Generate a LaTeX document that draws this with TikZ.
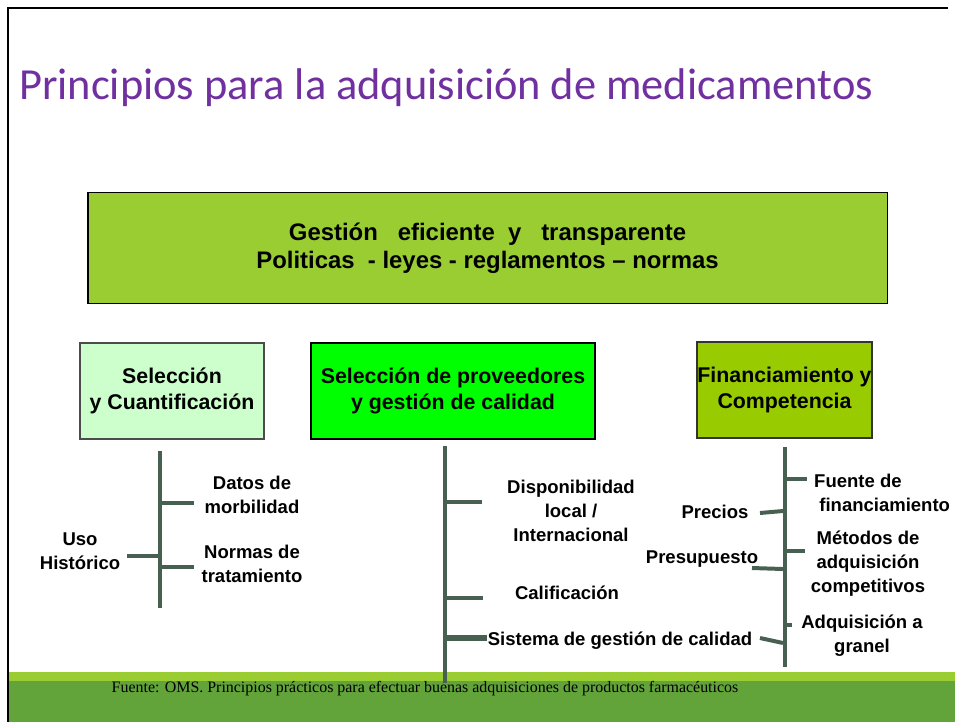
\documentclass[tikz,border=0pt]{standalone}
\usepackage{fontspec}
\setmainfont{Liberation Sans}
\newfontfamily\titlefont{Carlito}
\newfontfamily\notefont{Liberation Serif}
\usetikzlibrary{positioning}

\definecolor{titlepurple}{RGB}{112,48,160}
\definecolor{topgreen}{RGB}{154,205,50}
\definecolor{palegreen}{RGB}{204,255,204}
\definecolor{brightgreen}{RGB}{0,255,0}
\definecolor{olivegreen}{RGB}{153,204,0}
\definecolor{treegray}{RGB}{72,96,82}
\definecolor{footdark}{RGB}{98,163,58}

\begin{document}
\begin{tikzpicture}[x=0.03cm, y=-0.03cm,
    headbox/.style={draw=black, line width=0.9pt, align=center, font=\bfseries\fontsize{18.2}{22.5}\selectfont},
    leaflabel/.style={align=center, inner sep=0pt, font=\bfseries\fontsize{15.8}{20.5}\selectfont},
    twig/.style={draw=treegray, line width=3.4pt}]

\useasboundingbox (0,0) rectangle (955,722);

% Footer band
\fill[topgreen] (8,672) rectangle (955,681);
\fill[footdark] (8,681) rectangle (955,722);
\node (source) at (425,689) {\notefont\fontsize{13.6}{15}\selectfont Fuente: OMS. Principios prácticos para efectuar buenas adquisiciones de productos farmacéuticos};

% Slide frame
\draw[line width=2pt] (8,722) -- (8,8) -- (948,8);

% Title
\node (title) [anchor=base west, inner sep=0pt, text=titlepurple] at (19,99)
    {\titlefont\fontsize{37.9}{44}\selectfont Principios para la adquisición de medicamentos};

% Boxes
\node (gestion) [headbox, fill=topgreen, minimum width=23.97cm, minimum height=3.33cm,
    font=\bfseries\fontsize{20.4}{23.5}\selectfont] at (487.5,248)
    {Gestión\ \ \ eficiente\ \ y\ \ \ transparente\\Politicas\ \ - leyes - reglamentos -- normas};
\node (seleccion) [headbox, fill=palegreen, draw=black!70, minimum width=5.52cm, minimum height=2.88cm] at (172,391)
    {Selección\\y Cuantificación};
\node (proveedores) [headbox, fill=brightgreen, minimum width=8.52cm, minimum height=2.88cm] at (453,391)
    {Selección de proveedores\\y gestión de calidad};
\node (financia) [headbox, fill=olivegreen, draw=black!80, minimum width=5.25cm, minimum height=2.88cm, inner sep=0pt] at (784.5,390)
    {Financiamiento y\\Competencia};

% Tree 1
\coordinate (t1top) at (160,451);
\coordinate (t1bot) at (160,608);
\draw[twig] (t1top) -- (t1bot);
\node (datos) [leaflabel] at (252,495) {Datos de\\morbilidad};
\node (normas) [leaflabel] at (252,564) {Normas de\\tratamiento};
\node (uso) [leaflabel] at (80,551) {Uso\\Histórico};
\foreach \y/\x in {503/194, 567/194, 556/127} {
    \draw[twig] (160,\y) -- (\x,\y);
}

% Tree 2
\coordinate (t2top) at (445,446);
\coordinate (t2bot) at (445,683);
\draw[twig] (t2top) -- (t2bot);
\node (disponible) [leaflabel] at (571,511) {Disponibilidad\\local /\\Internacional};
\node (califica) [leaflabel] at (567,593) {Calificación};
\node (sistema) [leaflabel] at (620,641) {Sistema de gestión de calidad};
\foreach \y/\x in {502/482, 598/483} {
    \draw[twig] (445,\y) -- (\x,\y);
}
\draw[twig, line width=4.5pt] (445,638) -- (487,638);

% Tree 3
\coordinate (t3top) at (785,447);
\coordinate (t3bot) at (785,667);
\draw[twig] (t3top) -- (t3bot);
\node (fuente) [leaflabel, align=left, anchor=west] at (814,493) {Fuente de\\\ financiamiento};
\node (metodos) [leaflabel] at (868,564) {Métodos de\\adquisición\\competitivos};
\node (granel) [leaflabel] at (862,636) {Adquisición a\\granel};
\node (precios) [leaflabel] at (715,512) {Precios};
\node (presupuesto) [leaflabel] at (702,559) {Presupuesto};
\foreach \y/\x in {479/807, 551/805, 625/792} {
    \draw[twig] (785,\y) -- (\x,\y);
}
\draw[twig] (783,511) -- (760,513);
\draw[twig] (783,569) -- (752,568);
\draw[twig] (783,643) -- (760,638);

\end{tikzpicture}
\end{document}
